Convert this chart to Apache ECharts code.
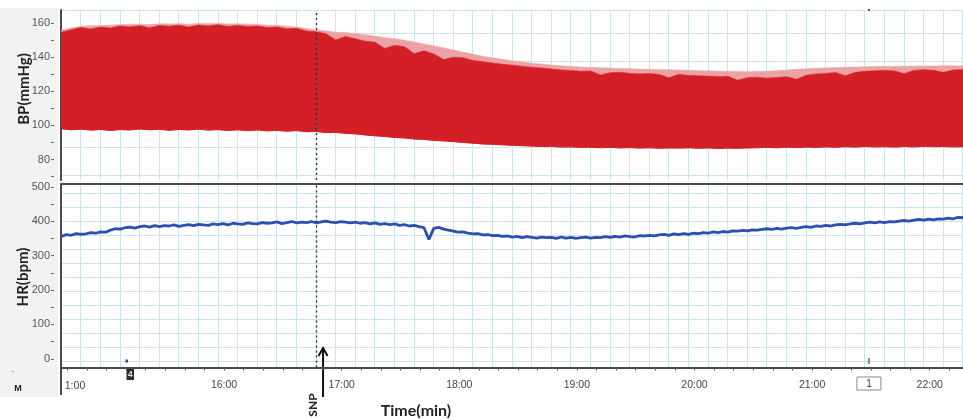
<!DOCTYPE html>
<html>
<head>
<meta charset="utf-8">
<script src="https://cdn.jsdelivr.net/npm/echarts@6/dist/echarts.min.js"></script>
<style>
html,body{margin:0;padding:0;background:#fff;}
#chart{width:963px;height:420px;}
</style>
</head>
<body>
<div id="chart"></div>
<script>
// Recording window: 14:37 .. 22:17 (seconds). BP envelopes every 5 s, HR every 2.5 s.
const T0 = 877;
const BP_STEP = 5;
const HR_STEP = 2.5;
const TIME_MIN = 876.8;
const TIME_MAX = 1337;

// Diastolic floor of the pressure trace (mmHg)
const bpDiastolic = [
  98.0,97.4,97.8,97.2,97.6,97.0,97.5,97.3,97.9,97.4,
  97.7,97.1,97.6,97.3,97.8,97.2,97.5,97.0,97.4,96.9,
  97.3,96.8,97.0,96.6,96.9,96.3,96.4,95.8,95.9,95.3,
  95.0,94.4,93.9,93.5,92.9,92.6,92.0,91.8,91.2,90.9,
  90.5,90.0,89.6,89.1,88.9,88.6,88.3,88.1,87.9,87.6,
  87.7,87.3,87.4,87.1,87.2,86.9,87.1,86.8,87.0,86.7,
  86.9,86.6,86.8,86.7,86.9,86.6,86.8,86.5,86.7,86.6,
  86.8,86.9,87.1,86.9,87.2,87.0,87.3,87.1,87.4,87.2,
  87.5,87.3,87.6,87.4,87.5,87.3,87.6,87.4,87.7,87.5,
  87.6,87.4,87.5
];
// Systolic level reached by most beats (mmHg)
const bpSystolic = [
  154.5,156.0,157.2,156.4,157.5,157.0,158.1,157.6,158.3,157.1,
  158.4,158.0,158.6,157.5,158.7,158.2,158.9,157.8,158.5,157.9,
  158.1,157.2,157.6,156.5,156.8,155.2,154.8,153.6,150.0,152.0,
  150.6,149.2,148.6,145.0,146.8,146.0,142.0,143.6,141.8,138.5,
  139.9,139.6,138.0,137.2,136.5,135.8,135.2,134.6,134.0,133.5,
  133.0,132.4,132.1,131.6,131.8,129.5,130.8,131.0,130.4,130.1,
  130.3,129.8,127.8,129.9,129.2,129.0,128.8,128.5,128.7,126.4,
  127.9,128.2,127.6,128.0,128.4,127.0,129.3,130.0,130.4,130.9,
  129.0,131.0,131.6,131.9,132.2,131.8,130.3,132.1,132.6,132.2,
  131.0,132.4,132.6
];
// Highest systolic peaks (mmHg)
const bpSystolicPeak = [
  155.8,157.0,158.0,158.3,158.4,158.6,159.0,159.1,159.2,159.0,
  159.4,159.3,159.5,159.2,159.6,159.5,159.7,159.3,159.4,159.2,
  159.0,158.6,158.4,158.0,157.5,156.6,155.8,155.2,154.5,154.3,
  153.6,153.0,152.2,151.3,150.6,149.8,148.8,147.6,146.5,145.3,
  144.1,142.8,141.6,140.4,139.5,138.6,137.8,137.1,136.4,135.8,
  135.3,134.8,134.5,134.2,133.9,133.7,133.5,133.3,133.1,132.9,
  132.8,132.6,132.5,132.4,132.2,132.0,131.9,131.7,131.6,131.5,
  131.4,131.5,131.7,132.0,132.4,132.8,133.1,133.4,133.6,133.8,
  134.0,134.1,134.3,134.4,134.5,134.5,134.6,134.6,134.7,134.7,
  134.8,134.8,134.8
];
// Heart rate (bpm)
const hrValues = [
  356,361,359,364,362,363,367,365,369,368,
  374,378,377,381,383,380,384,386,383,387,
  384,387,386,389,385,388,390,387,391,389,
  388,392,390,393,389,394,392,391,395,393,
  392,396,394,395,398,393,396,399,395,397,
  396,399,395,398,400,397,396,399,397,395,
  397,394,396,392,395,391,393,390,392,388,
  390,386,388,384,381,347,379,382,377,374,
  371,368,369,365,363,364,360,361,358,359,
  356,357,354,356,352,355,353,351,354,352,
  353,350,354,351,353,350,352,354,351,353,
  352,355,353,356,354,357,355,354,358,357,
  359,357,360,362,359,363,361,364,362,365,
  364,367,365,369,367,370,368,372,371,373,
  372,375,374,376,378,376,379,377,380,381,
  379,382,384,382,386,385,388,386,389,391,
  389,392,394,392,395,397,395,398,396,399,
  398,400,402,400,403,405,403,406,404,407,
  406,409,407,411,410
];

// Axis ticks
const timeTickSeconds = [960, 1020, 1080, 1140, 1200, 1260, 1320];
const timeTickLabels = ['16:00', '17:00', '18:00', '19:00', '20:00', '21:00', '22:00'];
const bpTickValues = [80, 100, 120, 140, 160];
const bpMinorTicks = [70, 90, 110, 130, 150];
const hrTickValues = [0, 100, 200, 300, 400, 500];
const hrMinorTicks = [50, 150, 250, 350, 450];

// Events
const snpLineSec = 1007;
const snpArrowSec = 1010.5;
const commentSec = [912, 1289];
const commentLabels = ['4', '1'];

const timeMinor = [];
for (let s = 880; s <= 1330; s += 10) timeMinor.push(s);

const bpTime = (i) => T0 + i * BP_STEP;
const hrData = hrValues.map((v, i) => [T0 + i * HR_STEP, v]);

const L = 61, W = 902;
const PAPER = {show: true, lineStyle: {color: '#c9e5ed', width: 1}};
const LABEL_FONT = 'Liberation Sans';
const AXIS_DARK = '#4a4a4a';

const hiddenAxis = (gridIndex) => ({type: 'value', gridIndex, min: 0, max: 1, show: false});
const paperAxis = (gridIndex, max) => ({
  type: 'value', gridIndex, min: 0, max, interval: 1,
  axisLine: {show: false}, axisTick: {show: false}, axisLabel: {show: false},
  splitLine: PAPER
});

const dashed = (sec) => ({
  silent: true, symbol: ['none', 'none'], label: {show: false},
  lineStyle: {color: '#333', width: 1.4, type: [2, 3]},
  data: [{xAxis: sec}]
});

// Filled band between two envelopes, projected through the BP axes
const band = (name, lower, upper, color) => ({
  name, type: 'custom', coordinateSystem: 'cartesian2d',
  xAxisIndex: 0, yAxisIndex: 0, silent: true,
  data: [[bpTime(0), lower[0]]],
  renderItem: (params, api) => {
    const pts = [];
    for (let i = 0; i < upper.length; i++) pts.push(api.coord([bpTime(i), upper[i]]));
    for (let i = lower.length - 1; i >= 0; i--) pts.push(api.coord([bpTime(i), lower[i]]));
    return {type: 'polygon', shape: {points: pts}, style: {fill: color, stroke: color, lineWidth: 0.6}};
  }
});

const chart = echarts.init(document.getElementById('chart'));
chart.setOption({
  animation: false,
  grid: [
    {left: L, top: 10, width: W, height: 170},
    {left: L, top: 184, width: W, height: 183.5},
    {left: L, top: 10, width: W, height: 170},
    {left: L, top: 10, width: W, height: 165.5},
    {left: L, top: 184, width: W, height: 183.5},
    {left: L, top: 184, width: W, height: 177}
  ],
  xAxis: [
    {type: 'value', gridIndex: 0, min: TIME_MIN, max: TIME_MAX, show: false},
    {
      type: 'value', gridIndex: 1, min: TIME_MIN, max: TIME_MAX, position: 'bottom',
      axisLine: {show: true, onZero: false, lineStyle: {color: AXIS_DARK, width: 2}},
      axisTick: {show: true, customValues: timeMinor, length: 3, lineStyle: {color: '#555'}},
      axisLabel: {
        customValues: timeTickSeconds, margin: 12,
        fontFamily: LABEL_FONT, fontSize: 10.5, color: '#444',
        formatter: (v) => timeTickLabels[timeTickSeconds.indexOf(v)] || ''
      },
      splitLine: {show: false}
    },
    {
      type: 'value', gridIndex: 1, min: TIME_MIN, max: TIME_MAX, position: 'top',
      axisLine: {show: true, onZero: false, lineStyle: {color: AXIS_DARK, width: 2}},
      axisTick: {show: false}, axisLabel: {show: false}, splitLine: {show: false}
    },
    paperAxis(2, W / 19.6),
    hiddenAxis(3),
    paperAxis(4, W / 19.6),
    hiddenAxis(5)
  ],
  yAxis: [
    {
      type: 'value', gridIndex: 0, min: 68, max: 167.5, position: 'left', offset: 7,
      axisLine: {show: false},
      axisTick: {show: true, customValues: bpTickValues.concat(bpMinorTicks), length: 3, lineStyle: {color: '#666'}},
      axisLabel: {customValues: bpTickValues, margin: 4, fontFamily: LABEL_FONT, fontSize: 11, color: '#555'},
      splitLine: {show: false}
    },
    {
      type: 'value', gridIndex: 0, min: 68, max: 167.5, position: 'left', offset: 0,
      axisLine: {show: true, onZero: false, lineStyle: {color: AXIS_DARK, width: 2}},
      axisTick: {show: false}, axisLabel: {show: false}, splitLine: {show: false}
    },
    {
      type: 'value', gridIndex: 1, min: -25, max: 508, position: 'left', offset: 7,
      axisLine: {show: false},
      axisTick: {show: true, customValues: hrTickValues.concat(hrMinorTicks), length: 3, lineStyle: {color: '#666'}},
      axisLabel: {customValues: hrTickValues, margin: 4, fontFamily: LABEL_FONT, fontSize: 11, color: '#555'},
      splitLine: {show: false}
    },
    {
      type: 'value', gridIndex: 1, min: -25, max: 508, position: 'left', offset: 0,
      axisLine: {show: true, onZero: false, lineStyle: {color: AXIS_DARK, width: 2}},
      axisTick: {show: false}, axisLabel: {show: false}, splitLine: {show: false}
    },
    hiddenAxis(2),
    paperAxis(3, 165.5 / 28.5),
    hiddenAxis(4),
    paperAxis(5, 177 / 14)
  ],
  series: [
    band('BP peaks', bpSystolic, bpSystolicPeak, '#eca3a5'),
    band('BP', bpDiastolic, bpSystolic, '#d41f27'),
    {
      name: 'BP diastolic', type: 'line', xAxisIndex: 0, yAxisIndex: 0,
      data: bpDiastolic.map((v, i) => [bpTime(i), v]), symbol: 'none', silent: true,
      lineStyle: {color: '#d41f27', width: 1},
      markLine: dashed(snpLineSec)
    },
    {
      name: 'HR', type: 'line', xAxisIndex: 1, yAxisIndex: 2,
      data: hrData, symbol: 'none', silent: true,
      lineStyle: {color: '#2c4fb0', width: 2.8},
      markLine: dashed(snpLineSec)
    }
  ]
});

// Annotations placed against the time axis
const px = (sec) => chart.convertToPixel({xAxisIndex: 1}, sec);
const txt = (x, y, text, font, fill, extra) => Object.assign({
  type: 'text', x, y, silent: true,
  style: {text, font, fill, align: 'center', verticalAlign: 'middle', textAlign: 'center', textVerticalAlign: 'middle'}
}, extra || {});

const ax = px(snpArrowSec);
const m4 = px(commentSec[0]);
const m1 = px(commentSec[1]);

chart.setOption({
  graphic: [
    {type: 'rect', z: -1, silent: true, shape: {x: 0, y: 8, width: 58, height: 389}, style: {fill: '#f2f2f2'}},
    {type: 'line', silent: true, shape: {x1: 61, y1: 367, x2: 61, y2: 395}, style: {stroke: AXIS_DARK, lineWidth: 2}},
    txt(75, 386, '1:00', '10.5px "Liberation Sans"', '#444'),
    txt(18, 389, 'M', 'bold 9px "Liberation Sans"', '#222'),
    txt(13, 372, '-', '9px "Liberation Sans"', '#888'),
    // comment marker 4
    {type: 'rect', silent: true, shape: {x: m4 - 3.5, y: 368, width: 7.5, height: 12}, style: {fill: '#2b2b2b'}},
    txt(m4 + 0.3, 374.5, commentLabels[0], 'bold 9px "Liberation Sans"', '#ddd'),
    {type: 'rect', silent: true, shape: {x: m4 - 4.5, y: 359.5, width: 2.5, height: 3}, style: {fill: '#334a8c'}},
    // comment marker 1
    {type: 'rect', silent: true, shape: {x: m1 - 12, y: 377, width: 24, height: 13}, style: {fill: '#fff', stroke: '#8a8a8a', lineWidth: 1}},
    txt(m1, 384, commentLabels[1], '10px "Liberation Sans"', '#333'),
    {type: 'line', silent: true, shape: {x1: m1, y1: 358, x2: m1, y2: 364}, style: {stroke: '#444', lineWidth: 1.2}},
    {type: 'rect', silent: true, shape: {x: m1 - 1, y: 9, width: 2, height: 2}, style: {fill: '#555'}},
    // SNP arrow
    {type: 'line', silent: true, shape: {x1: ax, y1: 397, x2: ax, y2: 349}, style: {stroke: '#111', lineWidth: 2}},
    {type: 'polyline', silent: true, shape: {points: [[ax - 4.5, 356], [ax, 348], [ax + 4.5, 356]]}, style: {stroke: '#111', lineWidth: 2, fill: null}},
    txt(ax - 10, 405, 'SNP', 'bold 12px Lato', '#222', {rotation: Math.PI / 2}),
    txt(416, 411, 'Time(min)', 'bold 16px Lato', '#222'),
    txt(24, 89, 'BP(mmHg)', 'bold 15px Lato', '#222', {rotation: Math.PI / 2}),
    txt(23, 277, 'HR(bpm)', 'bold 15px Lato', '#222', {rotation: Math.PI / 2})
  ]
});
</script>
</body>
</html>
